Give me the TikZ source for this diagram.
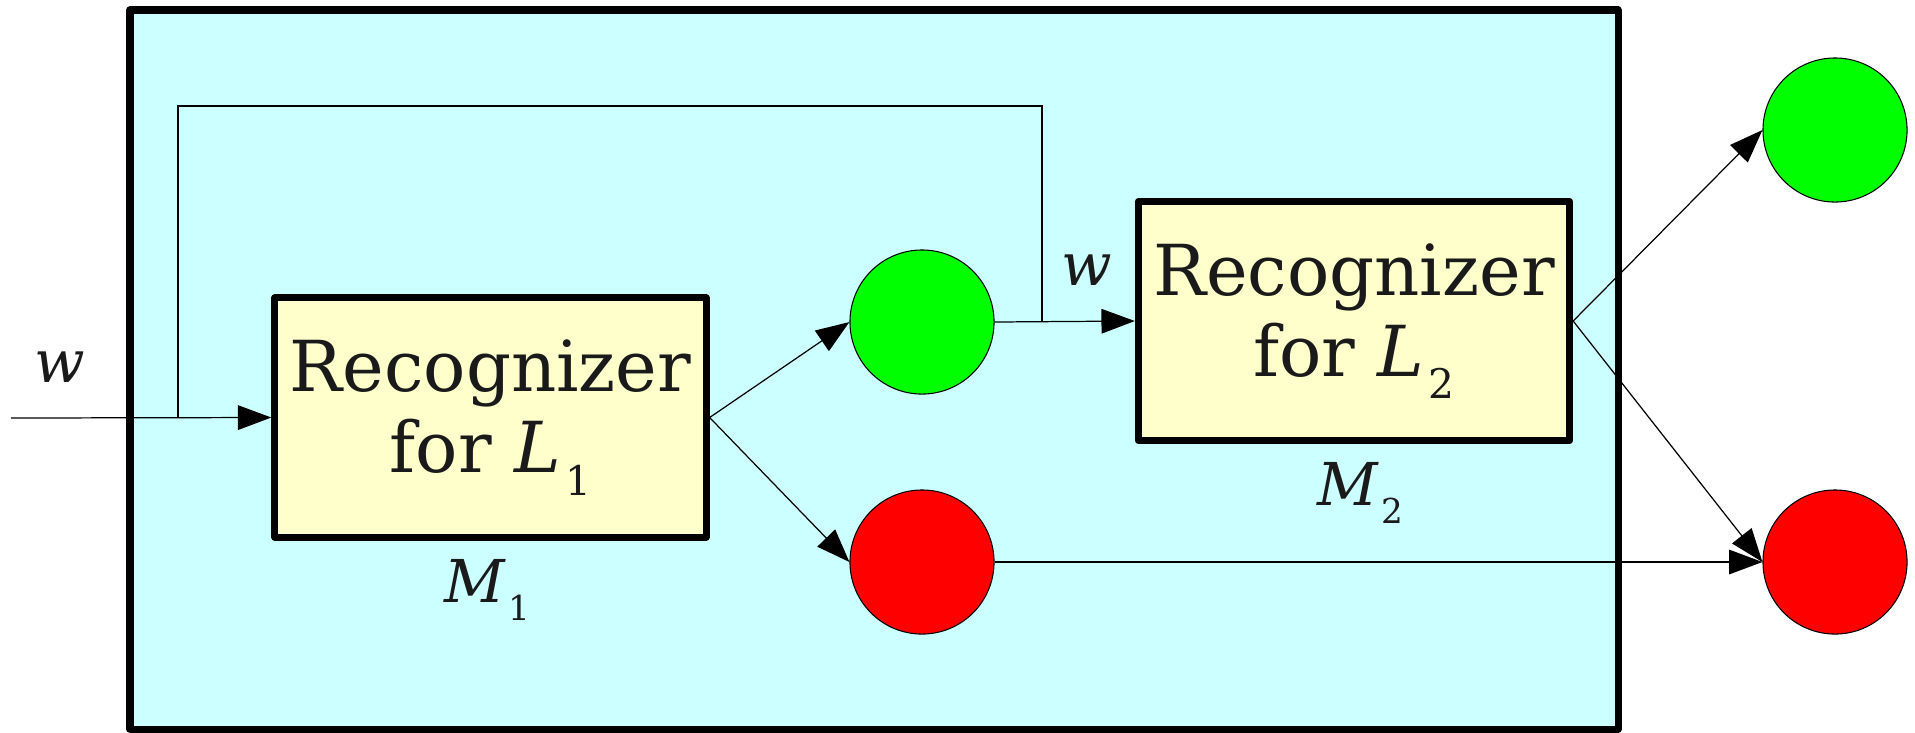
\documentclass[tikz,border=0pt]{standalone}
\usepackage{fontspec}
\setmainfont{DejaVu Serif}
\usepackage{xcolor}
\usetikzlibrary{arrows.meta}
\definecolor{bgcyan}{HTML}{CCFFFF}
\definecolor{boxyellow}{HTML}{FFFFCC}
\definecolor{accgreen}{HTML}{00FF00}
\definecolor{rejred}{HTML}{FF0000}
\definecolor{txtgray}{HTML}{1A1A1A}
\newcommand{\idx}[1]{\kern0.06em\raisebox{-0.32em}{\scalebox{0.58}{\upshape #1}}}
\newcommand{\Lang}[1]{\textit{L}\idx{#1}}

\begin{document}
\begin{tikzpicture}[x=0.01cm,y=-0.01cm,
    recog/.style={draw, line width=2pt, line join=round, fill=boxyellow, minimum width=4.31cm, minimum height=2.39cm, align=center, text=txtgray, font=\fontsize{20}{23}\selectfont},
    state/.style={circle, draw, line width=0.3pt, minimum size=1.44cm, inner sep=0pt},
    conn/.style={line width=0.35pt, -{Triangle[length=9.5pt,width=7pt]}},
    lbl/.style={anchor=base, text=txtgray, font=\fontsize{16.8}{19}\selectfont\itshape}]
        \useasboundingbox (0,0) rectangle (1915,732);
        %BINGKAI
        \draw[line width=2pt, line join=round, fill=bgcyan] (130,10) rectangle (1618,729);
        %KOORDINAT
        \coordinate (in) at (11,418);
        \coordinate (split) at (178,418);
        \coordinate (top) at (1042,106);
        \coordinate (join) at (1042,322);
        %KOTAK
        \node[recog] (M1) at (490.5,417.5) {Recognizer\\for \Lang{1}};
        \node[recog] (M2) at (1354,321) {Recognizer\\for \Lang{2}};
        \node[lbl] (m1) at (487,602) {M\idx{1}};
        \node[lbl] (m2) at (1360,505) {M\idx{2}};
        %LINGKARAN
        \node[state, fill=accgreen] (acc1) at (922,322) {};
        \node[state, fill=rejred] (rej1) at (922,562) {};
        \node[state, fill=accgreen] (acc2) at (1835,130) {};
        \node[state, fill=rejred] (rej2) at (1835,562) {};
        %LABEL W
        \node[lbl] (win) at (60,382) {w};
        \node[lbl] (wmid) at (1087,285) {w};
        %PANAH
        \draw[conn] (in) -- (M1.west);
        \draw[line width=0.35pt] (split) |- (top) -- (join);
        \draw[conn] (M1.east) -- (acc1.west);
        \draw[conn] (M1.east) -- (rej1.west);
        \draw[conn] (acc1.east) -- (M2.west);
        \draw[conn] (M2.east) -- (acc2.west);
        \draw[conn] (M2.east) -- (rej2.west);
        \draw[conn] (rej1.east) -- (rej2.west);
    \end{tikzpicture}
\end{document}
